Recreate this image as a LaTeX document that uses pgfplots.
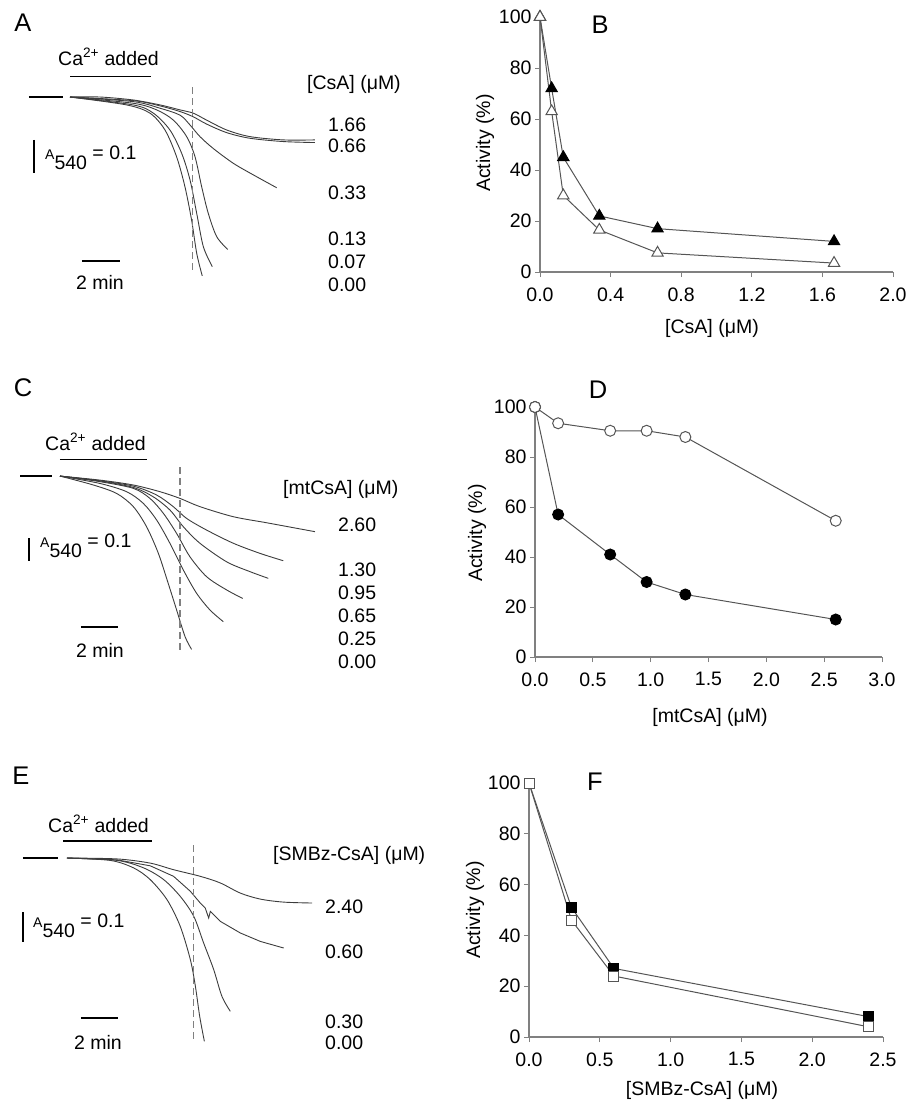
\documentclass[border=0pt]{standalone}
\usepackage{pgfplots}
\pgfplotsset{compat=1.18}
\usepackage{fontspec}
\setmainfont{Liberation Sans}

\newcommand\fs{\fontsize{19.5}{22}\selectfont}
\newcommand\lt{\fontsize{25.5}{28}\selectfont}
\newcommand\Aforty{{\fontsize{14}{16}\selectfont A}\raisebox{-10pt}{540} = 0.1}

\definecolor{axgray}{HTML}{808080}
\definecolor{ln}{HTML}{555555}
\definecolor{trace}{HTML}{3C3C3C}

\pgfplotsset{
  act/.style={scale only axis, anchor=south west, clip=false,
    axis lines=left, axis line style={-, axgray, line width=1.1pt},
    tick style={axgray, line width=1pt}, tick align=outside, major tick length=5pt,
    xmin=0, ymin=0, ymax=100, ytick={0,20,...,100},
    tick label style={font=\fs},
    /pgf/number format/assume math mode=true,
    x tick label style={/pgf/number format/fixed, /pgf/number format/fixed zerofill,
      /pgf/number format/precision=1, yshift=-7pt}},
  trc/.style={scale only axis, anchor=south west, clip=false, hide axis},
  tr/.style={trace, line width=0.9pt, smooth, tension=0.5},
  bar/.style={black, line width=1.2pt},
  dash/.style={axgray, line width=1.1pt, dash pattern=on 7pt off 4pt},
  filled/.style={ln, line width=1pt, mark options={solid, fill=black, draw=black}},
  hollow/.style={ln, line width=1pt, mark options={solid, fill=white, draw=ln}},
}

\begin{document}
\begin{tikzpicture}
\path[use as bounding box] (0,0) rectangle (909pt,-1104pt);

% ---------------- panel A: traces, CsA
\begin{axis}[trc, at={(13pt,-295pt)}, width=304pt, height=214.5pt,
  xmin=-3, xmax=13, ymin=-0.6, ymax=0.05]
% 1.66
\addplot[tr] coordinates {(0,0) (1.58,0) (3.33,-0.009) (4.74,-0.024) (5.79,-0.039)
  (6.49,-0.049) (7.19,-0.070) (8.25,-0.100) (9.47,-0.120) (11.23,-0.130) (12.89,-0.130)};
% 0.66
\addplot[tr] coordinates {(0,0) (3.33,-0.011) (4.74,-0.027) (5.79,-0.044) (6.49,-0.060)
  (7.19,-0.082) (8.25,-0.108) (9.47,-0.125) (11.23,-0.135) (12.89,-0.138)};
% 0.33
\addplot[tr] coordinates {(0,0) (3.33,-0.014) (4.74,-0.034) (5.79,-0.055) (6.32,-0.085)
  (6.84,-0.120) (7.54,-0.156) (8.60,-0.201) (9.65,-0.236) (10.88,-0.275)};
% 0.13
\addplot[tr] coordinates {(0,0) (3.33,-0.019) (4.56,-0.039) (5.44,-0.070) (6.14,-0.120)
  (6.58,-0.181) (6.93,-0.272) (7.28,-0.353) (7.72,-0.423) (8.30,-0.462)};
% 0.07
\addplot[tr] coordinates {(0,0) (3.33,-0.024) (4.39,-0.049) (5.26,-0.100) (5.88,-0.171)
  (6.32,-0.252) (6.67,-0.353) (7.02,-0.454) (7.49,-0.514)};
% 0.00
\addplot[tr] coordinates {(0,0) (2.98,-0.024) (4.21,-0.049) (5.00,-0.100) (5.61,-0.181)
  (6.05,-0.272) (6.40,-0.373) (6.67,-0.474) (6.96,-0.542)};
\addplot[bar, line width=1.6pt] coordinates {(-2.16,0) (-0.37,0)};
\addplot[bar] coordinates {(0,0.061) (4.26,0.061)};
\addplot[dash] coordinates {(6.47,0.030) (6.47,-0.530)};
\addplot[bar] coordinates {(-1.89,-0.130) (-1.89,-0.230)};
\addplot[bar] coordinates {(0.63,-0.497) (2.63,-0.497)};
\end{axis}
\node[font=\lt] at (23pt,-23pt) {A};
\node[anchor=base west, font=\fs, inner sep=0] at (58pt,-65pt) {Ca\textsuperscript{2+} added};
\node[anchor=base west, font=\fs, inner sep=0] at (307pt,-89pt) {[CsA] (μM)};
\node[anchor=base west, font=\fs, inner sep=0] at (45pt,-159pt) {\Aforty};
\node[font=\fs] at (100pt,-282pt) {2 min};
\foreach \v/\y in {1.66/125, 0.66/146, 0.33/193, 0.13/239, 0.07/262, 0.00/285}
  \node[anchor=west, font=\fs, inner sep=0] at (328pt,-\y pt) {\v};

% ---------------- panel B
\begin{axis}[act, at={(540pt,-272pt)}, width=353pt, height=255pt,
  xmax=2, xtick={0,0.4,0.8,1.2,1.6,2.0}]
\addplot[filled, mark=triangle*, mark size=6.5pt] coordinates {
  (0,100) (0.066,72) (0.132,45) (0.336,22) (0.666,17) (1.666,12)};
\addplot[hollow, mark=triangle*, mark size=6.5pt] coordinates {
  (0,100) (0.066,63) (0.132,30) (0.336,16.5) (0.666,7.5) (1.666,3.5)};
\end{axis}
\node[font=\lt] at (600pt,-25pt) {B};
\node[rotate=90, font=\fs] at (485pt,-143pt) {Activity (\%)};
\node[font=\fs] at (712pt,-328pt) {[CsA] (μM)};

% ---------------- panel C: traces, mtCsA
\begin{axis}[trc, at={(4pt,-654.7pt)}, width=317.3pt, height=189.8pt,
  xmin=-3, xmax=14, ymin=-0.8, ymax=0.05]
% 2.60
\addplot[tr] coordinates {(0,0) (2.14,-0.018) (3.93,-0.040) (5.36,-0.070) (6.43,-0.100)
  (7.50,-0.137) (9.29,-0.182) (11.07,-0.209) (13.66,-0.249)};
% 1.30
\addplot[tr] coordinates {(0,0) (2.14,-0.021) (3.93,-0.045) (5.18,-0.085) (6.07,-0.137)
  (6.79,-0.190) (7.86,-0.242) (9.29,-0.301) (10.71,-0.346) (11.96,-0.379)};
% 0.95
\addplot[tr] coordinates {(0,0) (2.14,-0.022) (3.93,-0.051) (5.00,-0.093) (5.89,-0.152)
  (6.61,-0.227) (7.50,-0.301) (8.93,-0.384) (10.18,-0.428) (11.16,-0.458)};
% 0.65
\addplot[tr] coordinates {(0,0) (2.14,-0.025) (3.93,-0.055) (4.82,-0.100) (5.54,-0.167)
  (6.25,-0.257) (6.96,-0.361) (7.86,-0.451) (8.93,-0.510) (9.79,-0.548)};
% 0.25
\addplot[tr] coordinates {(0,0) (2.14,-0.033) (3.57,-0.070) (4.46,-0.122) (5.18,-0.197)
  (5.89,-0.301) (6.61,-0.421) (7.32,-0.525) (8.04,-0.600) (8.75,-0.652)};
% 0.00
\addplot[tr] coordinates {(0,0) (1.79,-0.040) (3.04,-0.078) (3.93,-0.137) (4.64,-0.227)
  (5.27,-0.346) (5.80,-0.481) (6.25,-0.600) (6.70,-0.719) (7.05,-0.776)};
\addplot[bar, line width=1.6pt] coordinates {(-2.14,0) (-0.43,0)};
\addplot[bar] coordinates {(0,0.076) (4.66,0.076)};
\addplot[dash] coordinates {(6.43,0.040) (6.43,-0.779)};
\addplot[bar] coordinates {(-1.66,-0.278) (-1.66,-0.381)};
\addplot[bar] coordinates {(1.12,-0.676) (3.11,-0.676)};
\end{axis}
\node[font=\lt] at (23pt,-388pt) {C};
\node[anchor=base west, font=\fs, inner sep=0] at (45pt,-450pt) {Ca\textsuperscript{2+} added};
\node[anchor=base west, font=\fs, inner sep=0] at (283pt,-494pt) {[mtCsA] (μM)};
\node[anchor=base west, font=\fs, inner sep=0] at (40pt,-547pt) {\Aforty};
\node[font=\fs] at (100pt,-650pt) {2 min};
\foreach \v/\y in {2.60/525, 1.30/570, 0.95/593, 0.65/616, 0.25/639, 0.00/662}
  \node[anchor=west, font=\fs, inner sep=0] at (338pt,-\y pt) {\v};

% ---------------- panel D
\begin{axis}[act, at={(535pt,-657pt)}, width=347pt, height=250pt,
  xmax=3, xtick={0,0.5,1,1.5,2,2.5,3}]
\addplot[filled, mark=*, mark size=5.5pt] coordinates {
  (0,100) (0.2,57) (0.65,41) (0.965,30) (1.3,25) (2.6,15)};
\addplot[hollow, mark=*, mark size=5.5pt] coordinates {
  (0,100) (0.2,93.5) (0.65,90.5) (0.965,90.5) (1.3,88) (2.6,54.5)};
\end{axis}
\node[font=\lt] at (598pt,-390pt) {D};
\node[rotate=90, font=\fs] at (477pt,-533pt) {Activity (\%)};
\node[font=\fs] at (710pt,-717pt) {[mtCsA] (μM)};

% ---------------- panel E: traces, SMBz-CsA
\begin{axis}[trc, at={(11pt,-1053pt)}, width=317.3pt, height=210pt,
  xmin=-3, xmax=14, ymin=-0.65, ymax=0.05]
% 2.40
\addplot[tr] coordinates {(0,0) (2.68,-0.003) (4.46,-0.017) (5.71,-0.039) (7.14,-0.061)
  (8.21,-0.083) (9.29,-0.117) (10.36,-0.137) (11.61,-0.147) (13.13,-0.150)};
% 0.60
\addplot[trace, line width=0.9pt] coordinates {(0,0) (2.68,-0.006) (4.46,-0.026) (5.71,-0.061)
  (6.61,-0.111) (7.14,-0.150) (7.41,-0.167) (7.59,-0.200) (7.68,-0.178) (8.21,-0.211)
  (9.29,-0.250) (10.36,-0.278) (11.61,-0.300)};
% 0.30
\addplot[tr] coordinates {(0,0) (2.68,-0.008) (4.11,-0.033) (5.18,-0.072) (6.07,-0.128)
  (6.79,-0.194) (7.32,-0.283) (7.86,-0.372) (8.30,-0.461) (8.75,-0.511)};
% 0.00
\addplot[tr] coordinates {(0,0) (2.32,-0.008) (3.57,-0.033) (4.46,-0.072) (5.36,-0.139)
  (6.07,-0.228) (6.61,-0.339) (6.88,-0.428) (7.11,-0.528) (7.36,-0.611)};
\addplot[bar, line width=1.6pt] coordinates {(-2.36,0) (-0.48,0)};
\addplot[bar] coordinates {(-0.2,0.057) (4.55,0.057)};
\addplot[dash] coordinates {(6.80,0.043) (6.80,-0.613)};
\addplot[bar] coordinates {(-2.36,-0.180) (-2.36,-0.280)};
\addplot[bar] coordinates {(0.75,-0.533) (2.73,-0.533)};
\end{axis}
\node[font=\lt] at (21pt,-776pt) {E};
\node[anchor=base west, font=\fs, inner sep=0] at (48pt,-832pt) {Ca\textsuperscript{2+} added};
\node[anchor=base west, font=\fs, inner sep=0] at (273pt,-860pt) {[SMBz-CsA] (μM)};
\node[anchor=base west, font=\fs, inner sep=0] at (33pt,-927pt) {\Aforty};
\node[font=\fs] at (98pt,-1042pt) {2 min};
\foreach \v/\y in {2.40/907, 0.60/952, 0.30/1022, 0.00/1043}
  \node[anchor=west, font=\fs, inner sep=0] at (325pt,-\y pt) {\v};

% ---------------- panel F
\begin{axis}[act, at={(529pt,-1037pt)}, width=354pt, height=254pt,
  xmax=2.5, xtick={0,0.5,1,1.5,2,2.5}]
\addplot[filled, mark=square*, mark size=5pt] coordinates {
  (0,100) (0.3,51) (0.6,27) (2.4,8)};
\addplot[hollow, mark=square*, mark size=5pt] coordinates {
  (0,100) (0.3,46) (0.6,24) (2.4,4)};
\end{axis}
\node[font=\lt] at (595pt,-782pt) {F};
\node[rotate=90, font=\fs] at (475pt,-910pt) {Activity (\%)};
\node[font=\fs] at (702pt,-1090pt) {[SMBz-CsA] (μM)};
\end{tikzpicture}
\end{document}
